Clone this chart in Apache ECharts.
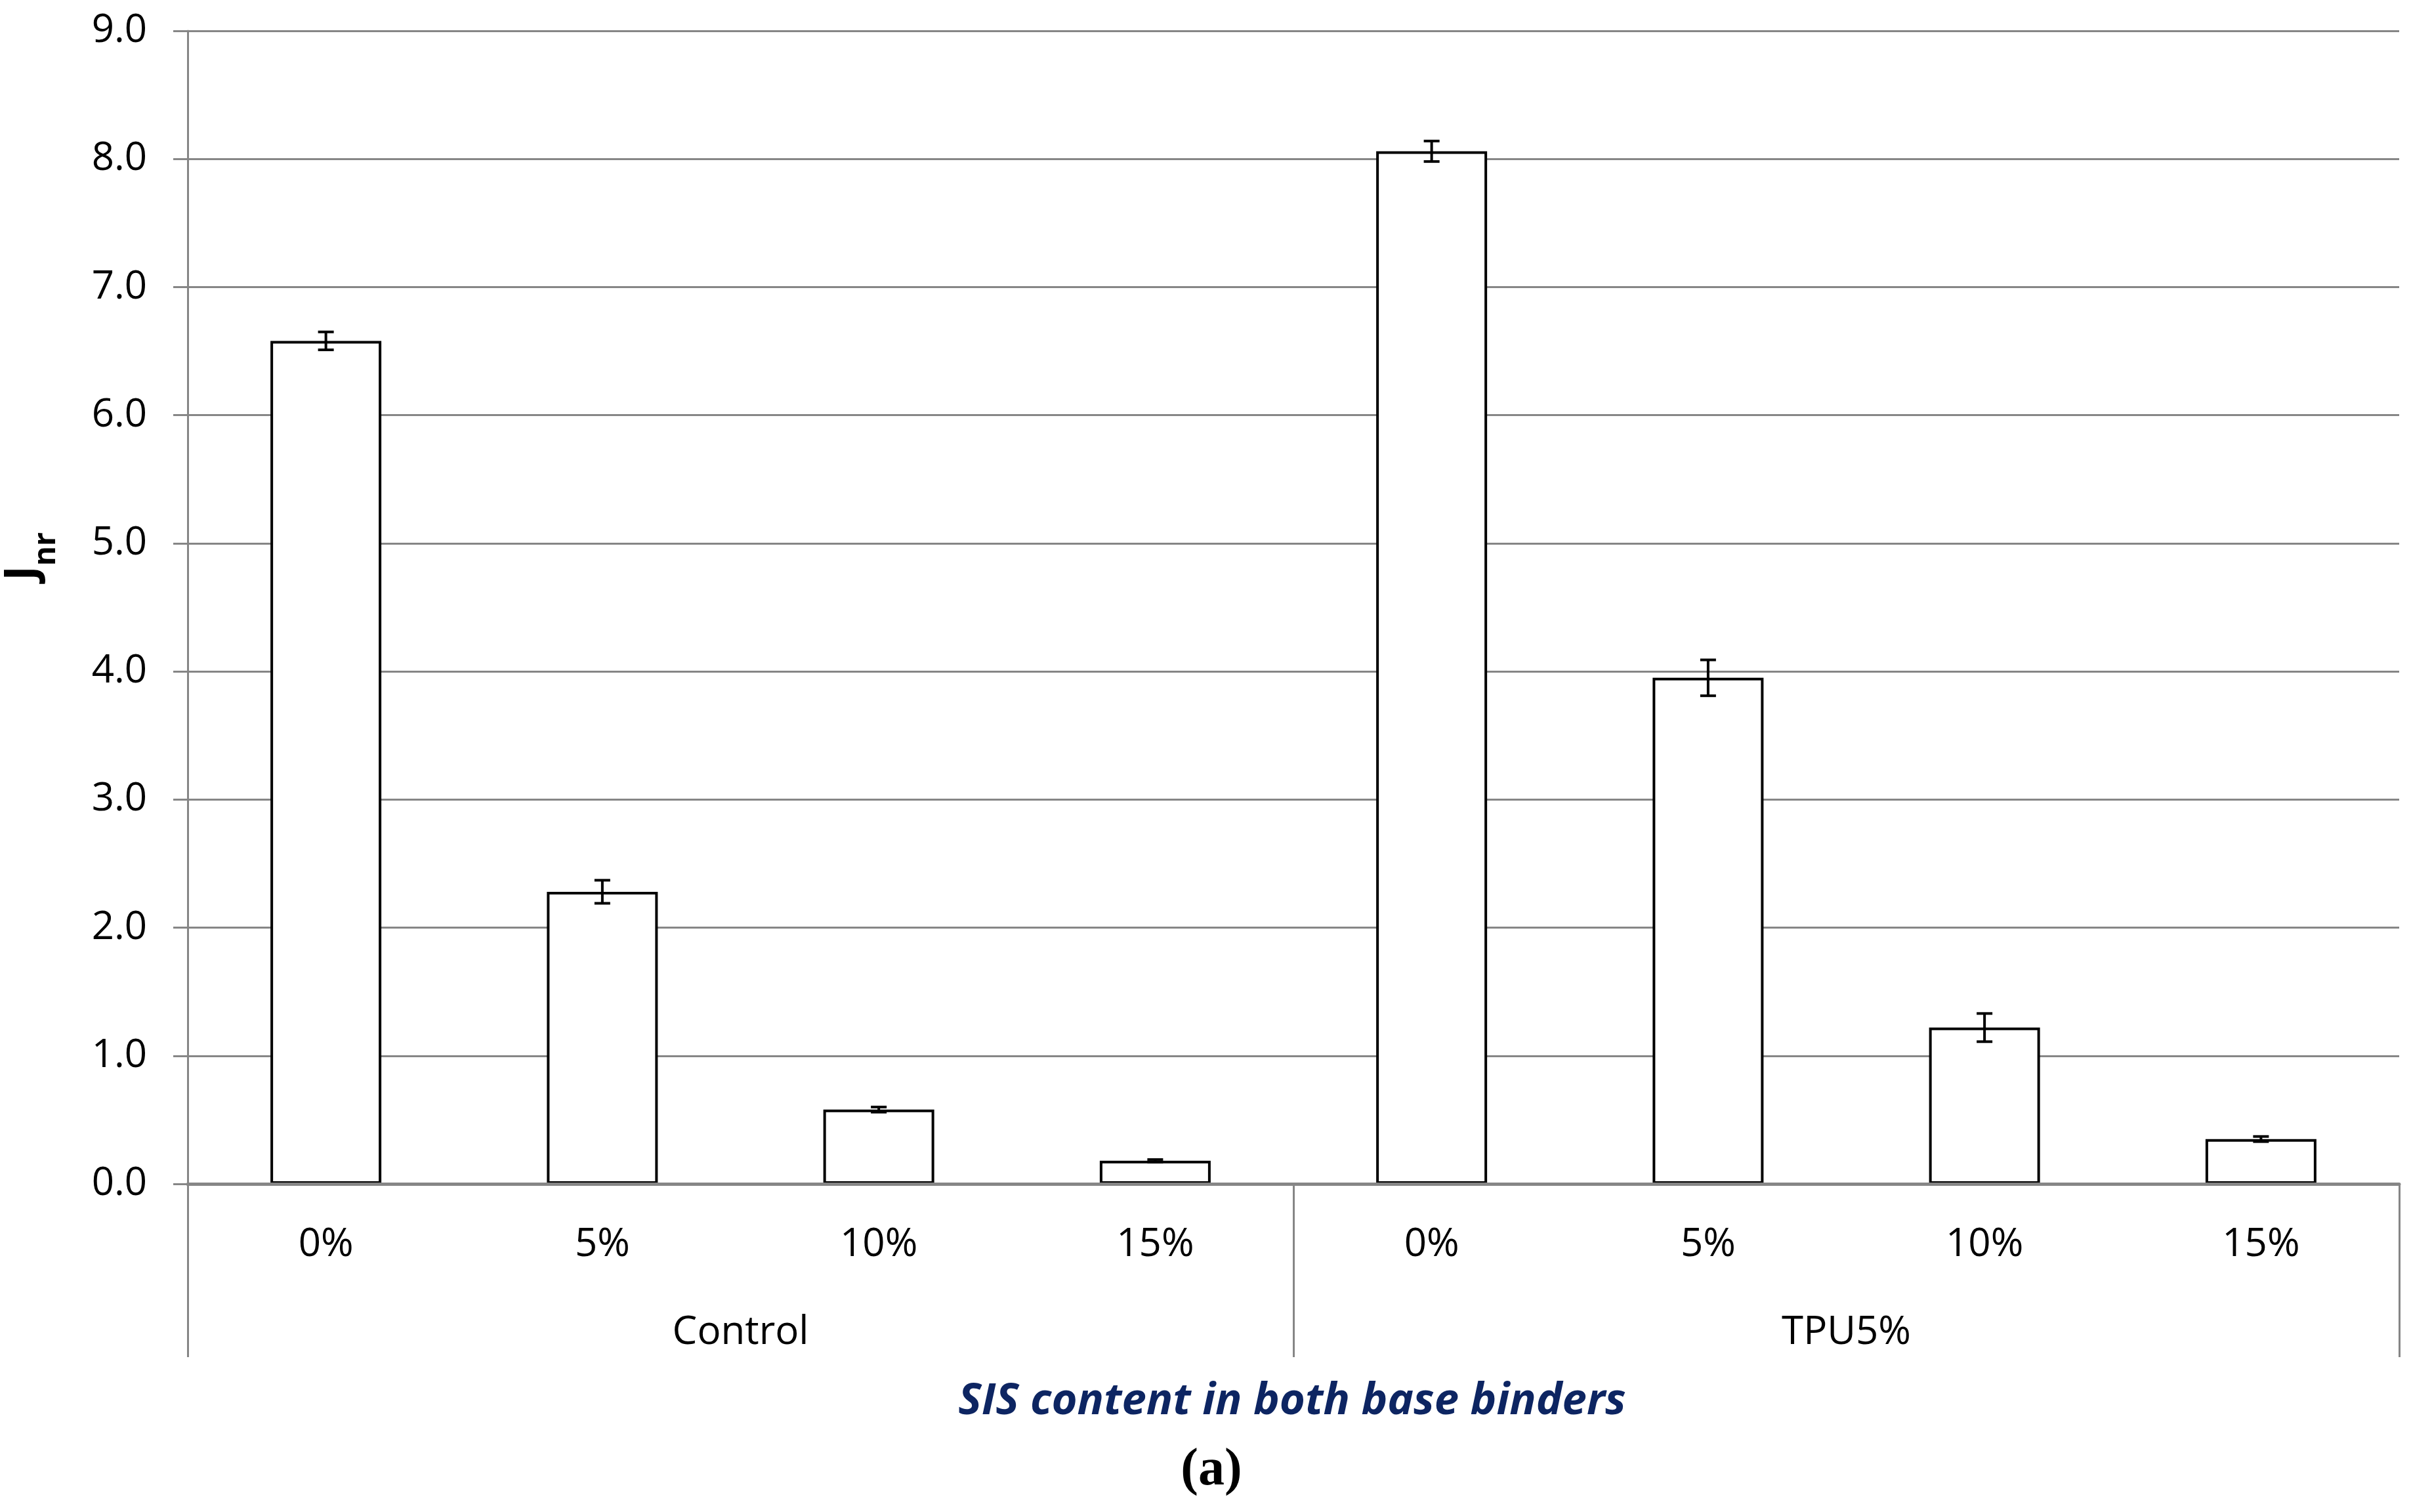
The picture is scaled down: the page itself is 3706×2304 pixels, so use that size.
<!DOCTYPE html>
<html>
<head>
<meta charset="utf-8">
<script src="https://cdn.jsdelivr.net/npm/echarts@6/dist/echarts.min.js"></script>
<style>
  html, body { margin: 0; padding: 0; background: #ffffff; }
  #chart { width: 3706px; height: 2304px; }
</style>
</head>
<body>
<div id="chart"></div>
<script>
// ---- data ----
const sisLevels = ['0%', '5%', '10%', '15%'];
const groups = ['Control', 'TPU5%'];
const controlJnr = [6.58, 2.28, 0.58, 0.18];
const tpuJnr = [8.06, 3.95, 1.22, 0.35];
const controlErr = [0.07, 0.09, 0.02, 0.01];
const tpuErr = [0.08, 0.14, 0.11, 0.02];
const yMin = 0, yMax = 9, yStep = 1;
const yAxisTitleMain = 'J';
const yAxisTitleSub = 'nr';
const xAxisTitle = 'SIS content in both base binders';
const panelLabel = '(a)';

// ---- build ----
const categories = sisLevels.concat(sisLevels);
const values = controlJnr.concat(tpuJnr);
const errors = controlErr.concat(tpuErr);
const errData = values.map((v, i) => [i, v, errors[i]]);

const grey = '#868686';
const font = 'Open Sans';

const chart = echarts.init(document.getElementById('chart'), null, { renderer: 'canvas' });
chart.setOption({
  backgroundColor: '#ffffff',
  animation: false,
  grid: { left: 286, right: 50, top: 47, bottom: 500, containLabel: false },
  xAxis: [
    {
      type: 'category',
      data: categories,
      position: 'bottom',
      z: 10,
      axisLine: { show: true, lineStyle: { color: grey, width: 5 } },
      axisTick: { show: false },
      axisLabel: { color: '#000', fontFamily: font, fontSize: 60, margin: 63, interval: 0 }
    },
    {
      type: 'category',
      data: groups,
      position: 'bottom',
      gridIndex: 0,
      axisLine: { show: false },
      axisTick: { show: true, inside: false, length: 264, interval: 0, lineStyle: { color: grey, width: 3 } },
      axisLabel: { color: '#000', fontFamily: font, fontSize: 60, margin: 197, interval: 0 },
      splitLine: { show: false }
    }
  ],
  yAxis: {
    type: 'value',
    min: yMin, max: yMax, interval: yStep,
    axisLine: { show: true, lineStyle: { color: grey, width: 3 } },
    axisTick: { show: true, length: 22, lineStyle: { color: grey, width: 3 } },
    axisLabel: { color: '#000', fontFamily: font, fontSize: 60, margin: 62, formatter: v => v.toFixed(1) },
    splitLine: { show: true, lineStyle: { color: grey, width: 3 } }
  },
  series: [
    {
      type: 'bar',
      xAxisIndex: 0,
      data: values,
      barWidth: 169,
      itemStyle: { color: '#ffffff', borderColor: '#000000', borderWidth: 4 },
      z: 3
    },
    {
      type: 'custom',
      xAxisIndex: 0,
      data: errData,
      encode: { x: 0, y: 1 },
      z: 5,
      renderItem: function (params, api) {
        const idx = api.value(0);
        const v = api.value(1);
        const e = api.value(2);
        const top = api.coord([idx, v + e]);
        const bot = api.coord([idx, v - e]);
        const hw = 12;
        const st = { stroke: '#000', lineWidth: 4 };
        return {
          type: 'group',
          children: [
            { type: 'line', shape: { x1: top[0], y1: top[1], x2: bot[0], y2: bot[1] }, style: st },
            { type: 'line', shape: { x1: top[0] - hw, y1: top[1], x2: top[0] + hw, y2: top[1] }, style: st },
            { type: 'line', shape: { x1: bot[0] - hw, y1: bot[1], x2: bot[0] + hw, y2: bot[1] }, style: st }
          ]
        };
      }
    }
  ],
  graphic: [
    {
      type: 'text',
      x: 48, y: 848,
      rotation: Math.PI / 2,
      style: {
        text: '{j|' + yAxisTitleMain + '}{s|' + yAxisTitleSub + '}',
        align: 'center', verticalAlign: 'middle',
        rich: {
          j: { fontFamily: font, fontWeight: 'bold', fontSize: 68, lineHeight: 92, verticalAlign: 'top', fill: '#000' },
          s: { fontFamily: font, fontWeight: 'bold', fontSize: 46, lineHeight: 48, verticalAlign: 'bottom', fill: '#000' }
        }
      }
    },
    {
      type: 'text',
      x: 1969, y: 2136,
      style: {
        text: xAxisTitle,
        align: 'center', verticalAlign: 'middle',
        fontFamily: font, fontWeight: 'bold', fontStyle: 'italic', fontSize: 67,
        fill: '#0d2562'
      }
    },
    {
      type: 'text',
      x: 1846, y: 2241,
      style: {
        text: panelLabel,
        align: 'center', verticalAlign: 'middle',
        fontFamily: 'Liberation Serif', fontWeight: 'bold', fontSize: 80,
        fill: '#000'
      }
    }
  ]
});
</script>
</body>
</html>
